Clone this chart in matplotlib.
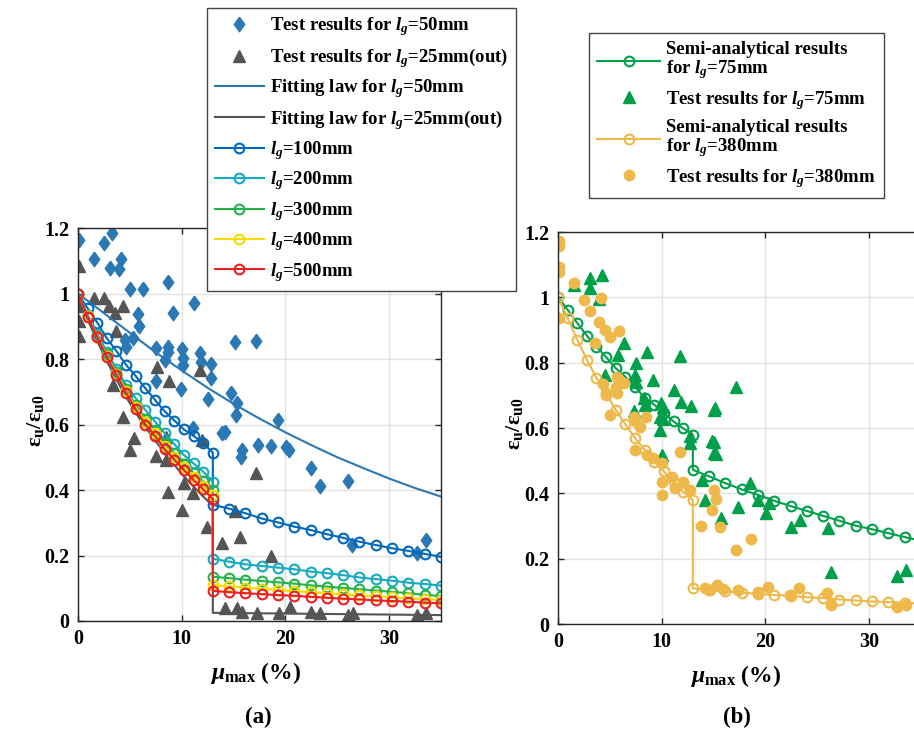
import matplotlib
matplotlib.use("Agg")
import matplotlib.pyplot as plt

plt.rcParams['font.family'] = ['Liberation Serif', 'DejaVu Serif']
plt.rcParams['font.weight'] = 'bold'
plt.rcParams['axes.labelweight'] = 'bold'
plt.rcParams['mathtext.fontset'] = 'custom'
plt.rcParams['mathtext.rm'] = 'Liberation Serif:bold'
plt.rcParams['mathtext.it'] = 'Liberation Serif:italic:bold'
plt.rcParams['mathtext.bf'] = 'Liberation Serif:bold'

# ---------------- data: panel (a) ----------------
# model x positions (before / after the drop at 13 %)
x_pre = [0, 0.93, 1.86, 2.79, 3.71, 4.64, 5.57, 6.50, 7.43, 8.36, 9.29, 10.21, 11.14, 12.07, 13.0]
x_post = [13.0, 14.57, 16.14, 17.71, 19.29, 20.86, 22.43, 24.0, 25.57, 27.14, 28.71, 30.29, 31.86, 33.43, 35.0]

lg100_pre = [1.0, 0.955, 0.911, 0.863, 0.824, 0.782, 0.748, 0.71, 0.675, 0.64, 0.612, 0.585, 0.565, 0.543, 0.514]
lg100_post = [0.355, 0.343, 0.329, 0.313, 0.301, 0.288, 0.278, 0.265, 0.254, 0.242, 0.232, 0.222, 0.214, 0.205, 0.196]
lg200_pre = [1.0, 0.935, 0.877, 0.822, 0.77, 0.72, 0.68, 0.644, 0.609, 0.573, 0.54, 0.507, 0.481, 0.456, 0.425]
lg200_post = [0.19, 0.181, 0.173, 0.168, 0.163, 0.158, 0.151, 0.146, 0.140, 0.133, 0.128, 0.123, 0.117, 0.113, 0.108]
lg300_pre = [1.0, 0.932, 0.871, 0.814, 0.76, 0.708, 0.66, 0.617, 0.582, 0.543, 0.512, 0.48, 0.452, 0.426, 0.40]
lg300_post = [0.135, 0.131, 0.126, 0.122, 0.118, 0.114, 0.109, 0.105, 0.101, 0.097, 0.093, 0.089, 0.085, 0.080, 0.076]
lg400_pre = [1.0, 0.930, 0.868, 0.810, 0.755, 0.702, 0.652, 0.608, 0.573, 0.533, 0.502, 0.47, 0.441, 0.413, 0.385]
lg400_post = [0.110, 0.106, 0.102, 0.098, 0.095, 0.091, 0.088, 0.085, 0.081, 0.078, 0.075, 0.072, 0.069, 0.066, 0.064]
lg500_pre = [1.0, 0.929, 0.866, 0.807, 0.751, 0.697, 0.646, 0.60, 0.565, 0.524, 0.492, 0.461, 0.43, 0.402, 0.372]
lg500_post = [0.092, 0.088, 0.085, 0.082, 0.079, 0.077, 0.074, 0.071, 0.068, 0.066, 0.063, 0.061, 0.059, 0.056, 0.054]

fit50_x = [0, 2.5, 5, 7.5, 10, 12.5, 15, 17.5, 20, 22.5, 25, 27.5, 30, 32.5, 35]
fit50_y = [1.0, 0.94, 0.88, 0.82, 0.765, 0.712, 0.663, 0.618, 0.576, 0.537, 0.5, 0.467, 0.435, 0.406, 0.38]
fit25_x = [0, 1, 2, 3, 4, 5, 6, 7, 8, 9, 10, 11, 12, 13, 13, 35]
fit25_y = [1.0, 0.915, 0.845, 0.78, 0.72, 0.665, 0.615, 0.57, 0.527, 0.487, 0.45, 0.415, 0.382, 0.352, 0.025, 0.018]

t50_x = [0.05, 1.55, 2.55, 3.3, 3.1, 4.15, 4.0, 5.05, 6.3, 8.7, 11.2, 5.75, 9.15, 5.85, 5.3, 4.5,
         4.6, 7.55, 8.7, 10.0, 8.65, 11.75, 15.1, 17.15, 8.4, 10.15, 10.15, 11.9, 12.8, 12.8, 7.5,
         9.9, 12.55, 14.8, 15.35, 15.25, 19.3, 13.85, 14.2, 11.1, 15.8, 15.7, 17.4, 18.6, 20.1,
         20.3, 22.5, 23.3, 26.0, 26.4, 33.6, 32.7]
t50_y = [1.163, 1.104, 1.155, 1.184, 1.079, 1.104, 1.074, 1.013, 1.015, 1.035, 0.970, 0.937, 0.940,
         0.901, 0.865, 0.858, 0.838, 0.835, 0.838, 0.830, 0.821, 0.817, 0.851, 0.856, 0.797, 0.802,
         0.782, 0.792, 0.785, 0.741, 0.734, 0.708, 0.677, 0.695, 0.665, 0.629, 0.615, 0.573, 0.578,
         0.588, 0.522, 0.502, 0.536, 0.534, 0.530, 0.522, 0.466, 0.412, 0.428, 0.232, 0.247, 0.207]

t25_x = [0.05, 0.05, 0.05, 0.05, 1.55, 2.55, 3.0, 3.6, 4.3, 3.65, 3.35, 4.35, 5.4, 5.0, 7.65, 8.75,
         11.75, 7.5, 8.5, 8.5, 8.7, 10.0, 10.2, 11.1, 11.95, 12.4, 13.85, 15.1, 15.6, 17.15, 18.6,
         14.2, 15.3, 15.8, 17.3, 19.4, 20.4, 22.5, 23.3, 26.0, 26.5, 32.7, 33.6]
t25_y = [1.084, 0.962, 0.916, 0.870, 0.987, 0.987, 0.962, 0.941, 0.962, 0.885, 0.721, 0.622, 0.560,
         0.521, 0.775, 0.732, 0.766, 0.505, 0.563, 0.492, 0.395, 0.339, 0.422, 0.392, 0.553, 0.288,
         0.237, 0.335, 0.257, 0.453, 0.200, 0.039, 0.039, 0.028, 0.023, 0.023, 0.044, 0.028, 0.023,
         0.018, 0.023, 0.018, 0.023]

# ---------------- data: panel (b) ----------------
sa75_pre = [1.0, 0.962, 0.921, 0.882, 0.849, 0.817, 0.783, 0.756, 0.727, 0.691, 0.671, 0.645, 0.62, 0.599, 0.579]
sa75_post = [0.472, 0.452, 0.431, 0.412, 0.395, 0.377, 0.361, 0.346, 0.331, 0.316, 0.301, 0.290, 0.278, 0.266, 0.255]
sa380_pre = [1.0, 0.936, 0.87, 0.809, 0.753, 0.707, 0.655, 0.611, 0.569, 0.533, 0.497, 0.467, 0.436, 0.405, 0.38]
sa380_post = [0.109, 0.105, 0.100, 0.096, 0.092, 0.089, 0.086, 0.082, 0.079, 0.075, 0.072, 0.069, 0.067, 0.065, 0.062]

t75_x = [1.5, 3.1, 4.2, 3.05, 4.0, 6.4, 5.8, 8.6, 11.75, 7.55, 4.5, 7.45, 9.13, 7.52, 11.2, 11.9,
         8.3, 12.8, 9.9, 7.35, 10.15, 8.4, 15.0, 9.8, 9.84, 10.15, 12.73, 12.73, 15.0, 10.0, 15.0,
         13.9, 14.15, 15.7, 17.16, 15.14, 14.82, 15.24, 18.5, 17.4, 19.3, 20.1, 20.3, 22.5, 23.3,
         26.0, 26.3, 32.7, 33.6]
t75_y = [1.038, 1.059, 1.069, 1.03, 0.995, 0.86, 0.824, 0.834, 0.82, 0.798, 0.763, 0.763, 0.748,
         0.742, 0.717, 0.681, 0.691, 0.666, 0.676, 0.652, 0.665, 0.671, 0.656, 0.635, 0.594, 0.628,
         0.553, 0.574, 0.558, 0.518, 0.523, 0.441, 0.38, 0.324, 0.725, 0.661, 0.561, 0.521, 0.431,
         0.359, 0.38, 0.339, 0.37, 0.298, 0.319, 0.293, 0.160, 0.147, 0.165]

t380_x = [0.05, 0.05, 0.05, 0.05, 0.05, 1.55, 2.5, 4.1, 3.05, 4.0, 4.55, 5.85, 5.0, 3.6, 5.7, 6.35,
          4.35, 5.6, 5.66, 4.6, 5.0, 7.3, 8.45, 7.43, 7.9, 7.43, 8.55, 9.19, 10.0, 11.76, 10.0,
          10.96, 12.08, 10.0, 11.28, 12.73, 15.0, 15.2, 14.82, 13.8, 15.6, 17.16, 18.58, 14.18,
          14.66, 15.3, 15.94, 17.39, 19.32, 20.28, 22.37, 23.27, 25.91, 26.3, 32.66, 33.56]
t380_y = [1.172, 1.158, 1.092, 1.078, 0.937, 1.044, 0.993, 0.997, 0.957, 0.924, 0.9, 0.896, 0.88,
          0.859, 0.757, 0.737, 0.736, 0.727, 0.706, 0.701, 0.640, 0.633, 0.633, 0.62, 0.604, 0.533,
          0.518, 0.508, 0.492, 0.528, 0.436, 0.451, 0.436, 0.395, 0.416, 0.41, 0.41, 0.382, 0.349,
          0.299, 0.298, 0.227, 0.261, 0.109, 0.103, 0.12, 0.106, 0.104, 0.098, 0.114, 0.089, 0.109,
          0.094, 0.058, 0.053, 0.058]

yticks = [0, 0.2, 0.4, 0.6, 0.8, 1.0, 1.2]
ytick_labels = ['0', '0.2', '0.4', '0.6', '0.8', '1', '1.2']
xticks = [0, 10, 20, 30]
xtick_labels = ['0', '10', '20', '30']

diamond = [(0, 1), (0.72, 0), (0, -1), (-0.72, 0), (0, 1)]

fig = plt.figure(figsize=(9.14, 7.35), dpi=100)
axL = fig.add_axes([78 / 914, 114 / 735, 363 / 914, 393 / 735])
axR = fig.add_axes([558 / 914, 111 / 735, 363 / 914, 392 / 735])


def style_axes(ax):
    ax.set_xlim(0, 35)
    ax.set_ylim(0, 1.2)
    ax.set_xticks(xticks, xtick_labels)
    ax.set_yticks(yticks, ytick_labels)
    ax.set_axisbelow(True)
    ax.grid(True, color='#e2e2e2', lw=1)
    ax.tick_params(direction='in', top=True, right=True, length=4, width=1,
                   color='#262626', labelsize=14.5, pad=6)
    for s in ax.spines.values():
        s.set_color('#262626')
        s.set_linewidth(1)
    ax.set_xlabel(r'$\mathit{μ}_{\mathrm{max}}$ (%)', fontsize=17)
    ax.set_ylabel(r'$\mathrm{ε_u/ε_{u0}}$', fontsize=16)


style_axes(axL)
style_axes(axR)

# panel (a)
h = []
h += axL.plot(t50_x, t50_y, ls='none', marker=diamond, ms=10.5, color='#2a78b4', mec='#2a78b4')
h += axL.plot(t25_x, t25_y, ls='none', marker='^', ms=8, color='#555555')
h += axL.plot(fit50_x, fit50_y, color='#2a78b4', lw=1.5)
h += axL.plot(fit25_x, fit25_y, color='#555555', lw=1.5)
model_a = [(lg100_pre, lg100_post, '#0068bd'), (lg200_pre, lg200_post, '#14aac2'),
           (lg300_pre, lg300_post, '#24b24a'), (lg400_pre, lg400_post, '#f7da00'),
           (lg500_pre, lg500_post, '#ee1d23')]
for pre, post, c in model_a:
    h += axL.plot(x_pre + x_post, pre + post, color=c, lw=1.5, marker='o', ms=7,
                  mfc='none', mew=1.5)

labels_a = [r'Test results for $l_g$=50mm', r'Test results for $l_g$=25mm(out)',
            r'Fitting law for $l_g$=50mm', r'Fitting law for $l_g$=25mm(out)',
            r'$l_g$=100mm', r'$l_g$=200mm', r'$l_g$=300mm', r'$l_g$=400mm', r'$l_g$=500mm']
fig.legend(h, labels_a, loc='upper left', bbox_to_anchor=(207 / 914, 1 - 8 / 735),
           bbox_transform=fig.transFigure, fontsize=13.5, frameon=True, fancybox=False,
           edgecolor='#444444', framealpha=1, handlelength=2.63, handletextpad=0.35,
           labelspacing=0.4, borderpad=0.4, borderaxespad=0, numpoints=1)

# panel (b)
g = []
g += axR.plot(x_pre + x_post, sa75_pre + sa75_post, color='#00a04b', lw=1.5, marker='o',
              ms=7, mfc='none', mew=1.5)
g += axR.plot(t75_x, t75_y, ls='none', marker='^', ms=8.5, color='#00a04b')
g += axR.plot(x_pre + x_post, sa380_pre + sa380_post, color='#efb84a', lw=1.5, marker='o',
              ms=7, mfc='none', mew=1.5)
g += axR.plot(t380_x, t380_y, ls='none', marker='o', ms=8.5, color='#efb84a', mew=0)

labels_b = ['Semi-analytical results\nfor $l_g$=75mm', r'Test results for $l_g$=75mm',
            'Semi-analytical results\nfor $l_g$=380mm', r'Test results for $l_g$=380mm']
legR = fig.legend(g, labels_b, loc='upper left', bbox_to_anchor=(589 / 914, 1 - 33 / 735),
                  bbox_transform=fig.transFigure, fontsize=13.5, frameon=True, fancybox=False,
                  edgecolor='#444444', framealpha=1, handlelength=3.32, handletextpad=0.35,
                  labelspacing=0.4, borderpad=0.45, borderaxespad=0, numpoints=1)
for t in legR.get_texts():
    t.set_linespacing(1.0)

for ax, xl, yl in [(axL, 0.488, -0.118), (axR, 0.49, -0.12)]:
    ax.xaxis.set_label_coords(xl, -0.132)
    ax.xaxis.label.set_va('center')
    ax.yaxis.set_label_coords(yl, 0.51)
    ax.yaxis.label.set_va('center')

fig.text(258 / 914, 1 - 717 / 735, '(a)', ha='center', va='center', fontsize=16.5)
fig.text(737 / 914, 1 - 717 / 735, '(b)', ha='center', va='center', fontsize=16.5)

fig.savefig('out.png', dpi=100)
